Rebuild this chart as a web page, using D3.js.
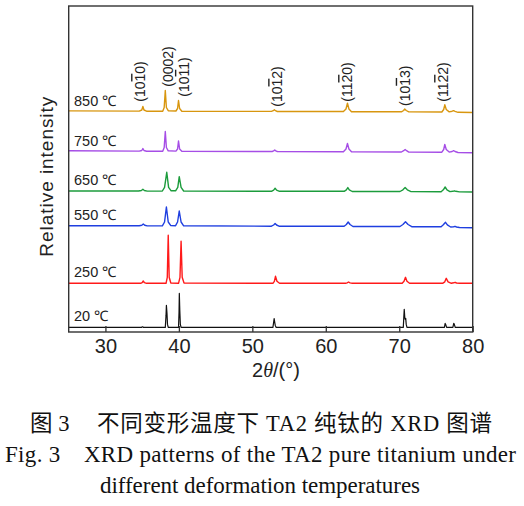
<!DOCTYPE html>
<html><head><meta charset="utf-8">
<script src="https://cdn.jsdelivr.net/npm/d3@7"></script>
<style>
html,body{margin:0;padding:0;background:#fff;}
svg{display:block;}
</style></head>
<body>
<svg id="chart" width="524" height="506"></svg>
<script>
// ---- data ----
const temperatures = ["850 ℃", "750 ℃", "650 ℃", "550 ℃", "250 ℃", "20 ℃"];
const colors = ["#d8960f", "#a64ee6", "#1c9c3c", "#1f3fe0", "#ff1a1a", "#111111"];
const offsets = [220.5, 180.5, 140.7, 106, 48.7, 4.6];

const s850 = [[25,0.6],[34.6,0.4],[34.95,1.5],[35.1,5],[35.25,1.5],[35.6,0.3],
  [37.8,0.3],[38.0,4],[38.15,21],[38.3,4],[38.55,0.8],
  [39.6,0.5],[39.82,3],[39.95,11],[40.1,3],[40.4,0.3],
  [52.6,0.1],[52.85,0.8],[53.0,1.7],[53.15,0.8],[53.4,0],
  [62.4,0],[62.75,2.5],[62.95,8.3],[63.15,2.5],[63.5,-0.2],
  [70.3,-0.3],[70.6,1],[70.75,2.5],[70.95,1],[71.3,-0.4],
  [75.8,-0.5],[76.05,2],[76.2,6.7],[76.4,2],[76.8,-0.4],[77.2,0.3],[77.4,0.8],[77.6,0.2],[78,-0.8],[80,-1]];
const s750 = [[25,0.7],[34.6,0.4],[34.95,1],[35.1,3],[35.25,1],[35.6,0.3],
  [37.8,0.3],[38.0,4],[38.15,20],[38.3,4],[38.55,0.7],
  [39.6,0.4],[39.82,2.5],[39.95,10.5],[40.1,2.5],[40.4,0.2],
  [52.7,0],[52.9,0.6],[53.05,1.5],[53.2,0.6],[53.4,0],
  [62.4,-0.2],[62.75,2.5],[62.95,8],[63.15,2.5],[63.5,-0.3],
  [70.3,-0.5],[70.6,0.8],[70.8,2],[71.0,0.8],[71.3,-0.6],
  [75.8,-0.7],[76.05,2],[76.2,7],[76.4,2],[76.8,-0.6],[77.2,0],[77.4,0.8],[77.6,0],[78,-1],[80,-1.3]];
const s650 = [[25,0.3],[34.5,0.3],[34.9,0.8],[35.1,2],[35.3,0.8],[35.7,0.2],
  [37.75,0.3],[38.05,4],[38.35,19],[38.6,4],[38.95,0.5],
  [39.55,0.5],[39.85,4],[40.05,14.6],[40.3,4],[40.65,0.3],
  [52.6,0],[52.9,1.2],[53.1,3],[53.3,1.2],[53.7,0],
  [62.5,0],[62.8,1.5],[63.0,3.7],[63.2,1.5],[63.6,-0.2],
  [70.1,-0.2],[70.5,1.5],[70.8,3.7],[71.1,1.5],[71.6,-0.3],
  [75.7,-0.4],[76.0,1.5],[76.25,4.3],[76.5,1.5],[76.9,-0.3],[77.3,0],[77.5,0.5],[77.7,0],[78.2,-0.6],[80,-0.7]];
const s550 = [[25,0.3],[34.6,0.3],[34.95,0.8],[35.15,2],[35.35,0.8],[35.7,0.1],
  [37.75,0.2],[38.05,4],[38.3,19],[38.55,4],[38.9,0.4],
  [39.55,0.3],[39.82,4],[40.05,15],[40.3,4],[40.65,0.2],
  [52.6,-0.2],[52.9,1],[53.1,2.5],[53.3,1],[53.7,-0.3],
  [62.5,-0.3],[62.8,1.5],[63.05,4],[63.3,1.5],[63.7,-0.5],
  [70.1,-0.5],[70.5,1.5],[70.85,4.3],[71.2,1.5],[71.7,-0.7],
  [75.7,-0.8],[76.0,1.2],[76.3,3.7],[76.55,1.2],[77.0,-1],[77.4,-0.8],[77.6,-0.4],[77.8,-1],[78.2,-1.5],[80,-1.7]];
const s250 = [[25,0],[34.8,0],[35.0,0.7],[35.15,2.3],[35.3,0.7],[35.6,0],
  [38.25,0],[38.42,6],[38.55,48],[38.68,6],[38.9,0.3],
  [39.95,0],[40.15,6],[40.3,42],[40.45,6],[40.7,0.3],
  [52.8,0],[53.0,2],[53.15,7],[53.35,2],[53.7,0],
  [62.7,0],[62.9,0.4],[63.1,1.3],[63.3,0.4],[63.6,0],
  [70.4,0],[70.65,2],[70.85,6],[71.05,2],[71.4,0],
  [75.9,0],[76.2,1.5],[76.4,5],[76.65,1.5],[77.1,0],[77.4,0.5],[77.6,1],[77.8,0.3],[78.2,0],[80,0]];
const s20 = [[25,0],[34.9,0],[35.05,0.6],[35.2,0],
  [38.15,0],[38.25,12],[38.3,22],[38.38,14],[38.45,3],[38.55,0],
  [39.95,0],[40.02,15],[40.06,34],[40.12,18],[40.2,3],[40.3,0],
  [52.8,0],[52.9,5],[52.97,8.7],[53.05,5],[53.12,2],[53.25,0],
  [70.55,0],[70.62,10],[70.68,18],[70.75,10],[70.82,8],[70.88,9],[70.95,3],[71.05,0],
  [76.15,0],[76.25,4],[76.32,3],[76.45,0],
  [77.3,0],[77.42,4],[77.5,3],[77.62,0],[80,0]];
const seriesData = [s850, s750, s650, s550, s250, s20];

// Miller indices: [before-bar, barred digit, after-bar]
const hklLabels = [["(10","1","0)"],["(000","",""],["(10","1","1)"],["(10","1","2)"],["(11","2","0)"],["(10","1","3)"],["(11","2","2)"]];
const hklText   = ["(1010)","(0002)","(1011)","(1012)","(1120)","(1013)","(1122)"];
const hklPos    = [34.72, 38.55, 40.69, 53.38, 62.9, 70.75, 75.97];
const hklTop    = [101.7, 86.7, 96.7, 106.7, 101.7, 106, 101.7]; // lower end of label, in px from top

const xTicks = [30, 40, 50, 60, 70, 80];

// ---- drawing ----
const svg = d3.select("#chart");
const L = 68.7, R = 472.7, T = 6, B = 332;
const x = d3.scaleLinear().domain([25, 80]).range([L, R]);
const y = d3.scaleLinear().domain([0, B - T]).range([B, T]);
const sans = "'Liberation Sans', Arial, Helvetica, sans-serif";

const line = d3.line().x(d => x(d[0])).y(d => d[1]);

seriesData.forEach((s, i) => {
  svg.append("path")
    .datum(s.map(p => [p[0], y(p[1] + offsets[i])]))
    .attr("d", line)
    .attr("fill", "none")
    .attr("stroke", colors[i])
    .attr("stroke-width", i === 5 ? 1.2 : 1.4)
    .attr("stroke-linejoin", "round");
  svg.append("text")
    .attr("x", 74)
    .attr("y", y(offsets[i]) - 6)
    .attr("font-family", sans)
    .attr("font-size", 14.5)
    .attr("fill", "#222")
    .text(temperatures[i]);
});

// frame
svg.append("rect").attr("x", L).attr("y", T).attr("width", R - L).attr("height", B - T)
  .attr("fill", "none").attr("stroke", "#333").attr("stroke-width", 1.4);

// x axis
const ax = svg.append("g").attr("transform", `translate(0,${B})`)
  .call(d3.axisBottom(x).tickValues(xTicks).tickSizeInner(-6).tickSizeOuter(0).tickPadding(7).tickFormat(d3.format("d")));
ax.select(".domain").remove();
ax.selectAll(".tick line").attr("stroke", "#333").attr("stroke-width", 1.3);
ax.selectAll(".tick text").attr("font-family", sans).attr("font-size", 20).attr("fill", "#222");

// x title
const xt = svg.append("text").attr("x", 276).attr("y", 376.5).attr("text-anchor", "middle")
  .attr("font-family", sans).attr("font-size", 20).attr("fill", "#222");
xt.append("tspan").text("2");
xt.append("tspan").attr("font-style", "italic").attr("font-family", "'Liberation Serif', serif").text("θ");
xt.append("tspan").text("/(°)");

// y title
svg.append("text")
  .attr("transform", "translate(53,176.7) rotate(-90)")
  .attr("text-anchor", "middle")
  .attr("font-family", sans).attr("font-size", 19).attr("fill", "#222")
  .attr("textLength", 160).attr("lengthAdjust", "spacing")
  .text("Relative intensity");

// hkl labels
hklLabels.forEach((parts, i) => {
  const t = svg.append("text")
    .attr("transform", `translate(${x(hklPos[i]) + 5},${hklTop[i]}) rotate(-90)`)
    .attr("font-family", sans).attr("font-size", 14).attr("fill", "#222");
  if (parts[1] === "") { t.text(hklText[i]); return; }
  t.append("tspan").text(parts[0]);
  t.append("tspan").style("text-decoration", "overline").text(parts[1]);
  t.append("tspan").text(parts[2]);
});

// caption
const serif = "'Liberation Serif', 'Times New Roman', serif";
const cjk = "'Liberation Serif', 'Noto Sans CJK SC', serif";
svg.append("text").attr("x", 30).attr("y", 431).attr("font-family", cjk)
  .attr("font-size", 22.5).attr("fill", "#111")
  .text("图 3");
svg.append("text").attr("x", 492).attr("y", 431).attr("font-family", cjk)
  .attr("text-anchor", "end")
  .attr("font-size", 22.5).attr("fill", "#111").attr("textLength", 395).attr("lengthAdjust", "spacing")
  .text("不同变形温度下 TA2 纯钛的 XRD 图谱");
svg.append("text").attr("x", 5).attr("y", 461.5).attr("font-family", serif)
  .attr("font-size", 23).attr("fill", "#111").attr("textLength", 511).attr("lengthAdjust", "spacing")
  .text("Fig. 3　XRD patterns of the TA2 pure titanium under");
svg.append("text").attr("x", 100).attr("y", 493).attr("font-family", serif)
  .attr("font-size", 23).attr("fill", "#111").attr("textLength", 320).attr("lengthAdjust", "spacing")
  .text("different deformation temperatures");
</script>
</body></html>
